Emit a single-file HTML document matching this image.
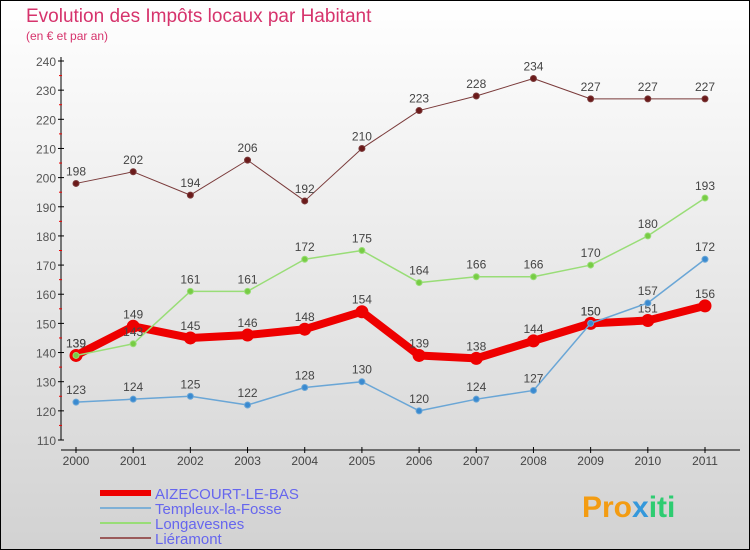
<!DOCTYPE html>
<html><head><meta charset="utf-8"><style>
body{margin:0}
svg{display:block;font-family:"Liberation Sans",sans-serif}
</style></head><body>
<svg width="750" height="550" id="c">
<defs><linearGradient id="bg" x1="0" y1="0" x2="0" y2="1"><stop offset="0" stop-color="#ffffff"/><stop offset="1" stop-color="#d2d2d2"/></linearGradient></defs>
<rect x="0.5" y="0.5" width="749" height="549" fill="url(#bg)" stroke="#000"/>
<text x="26" y="22" font-size="19" fill="#d6336c">Evolution des Impôts locaux par Habitant</text>
<text x="26" y="40" font-size="12" fill="#d6336c">(en € et par an)</text>
<g id="axes"></g><g id="series"></g><g id="legend"></g>
<text x="582" y="517" font-size="30" font-weight="bold" fill="#f39c12">Pro<tspan fill="#3498db">x</tspan><tspan fill="#2ecc71">iti</tspan></text>
</svg>
<script>
const years=[2000,2001,2002,2003,2004,2005,2006,2007,2008,2009,2010,2011];
const yTicks=[110,120,130,140,150,160,170,180,190,200,210,220,230,240];
const aizecourt=[139,149,145,146,148,154,139,138,144,150,151,156];
const templeux=[123,124,125,122,128,130,120,124,127,150,157,172];
const longavesnes=[139,143,161,161,172,175,164,166,166,170,180,193];
const lieramont=[198,202,194,206,192,210,223,228,234,227,227,227];
const NS="http://www.w3.org/2000/svg";
const X=i=>76+i*(705-76)/11;
const Y=v=>61+(240-v)*(440-61)/130;
function mk(t,a,p){const e=document.createElementNS(NS,t);for(const k in a)e.setAttribute(k,a[k]);p.appendChild(e);return e;}
const ax=document.getElementById('axes');
let yl=mk('line',{x1:61,y1:57,x2:61,y2:440,stroke:'#000'},ax);


yTicks.forEach(v=>{
 mk('line',{x1:58,x2:64,y1:Y(v),y2:Y(v),stroke:'#000'},ax);
 if(v<240){const m=mk('line',{x1:59,x2:62,y1:Y(v+5),y2:Y(v+5),stroke:'#e00'},ax);}
 const t=mk('text',{x:56,y:Y(v)+5,'text-anchor':'end','font-size':12,fill:'#555'},ax);
 t.textContent=v;
 
 
});
let xl=mk('line',{x1:61,y1:450,x2:740,y2:450,stroke:'#000'},ax);


years.forEach((y,i)=>{
 mk('line',{x1:X(i),x2:X(i),y1:447,y2:453,stroke:'#000'},ax);
 const t=mk('text',{x:X(i),y:465,'text-anchor':'middle','font-size':12,fill:'#444'},ax);
 t.textContent=y;
 
 
});
const sg=document.getElementById('series');
function series(name,data,color,dot,w,r){
 const g=mk('g',{},sg);
 
 
 const p=mk('polyline',{points:data.map((v,i)=>X(i)+','+Y(v)).join(' '),fill:'none',stroke:color,'stroke-width':w,'stroke-linejoin':'round'},g);
 
 
 data.forEach((v,i)=>{
  const c=mk('circle',{cx:X(i),cy:Y(v),r:r,fill:dot,stroke:color,'stroke-width':1},g);
  
  
  const t=mk('text',{x:X(i),y:Y(v)-8,'text-anchor':'middle','font-size':12,fill:'#444'},g);
  t.textContent=v;
  
  
 });
}
series('aizecourt',aizecourt,'#ee0000','#ee0000',8,6);
series('lieramont',lieramont,'#7a3a3a','#6b1a1a',1,3);
series('longavesnes',longavesnes,'#99dd77','#77cc44',1.5,3);
series('templeux',templeux,'#6aa6d6','#3a8ad0',1.5,3);
const lg=document.getElementById('legend');
const leg=[['AIZECOURT-LE-BAS','#ee0000',6],['Templeux-la-Fosse','#7fb0d6',2],['Longavesnes','#99dd77',2],['Liéramont','#9a5a5a',2]];
leg.forEach((d,i)=>{
 const y=493+i*15;
 const r=mk('rect',{x:100,y:y-d[2]/2,width:51,height:d[2],fill:d[1]},lg);
 
 
 const t=mk('text',{x:155,y:y+6,'font-size':15,fill:'#6666ee'},lg);
 t.textContent=d[0];
 
 
});
</script>
</body></html>
